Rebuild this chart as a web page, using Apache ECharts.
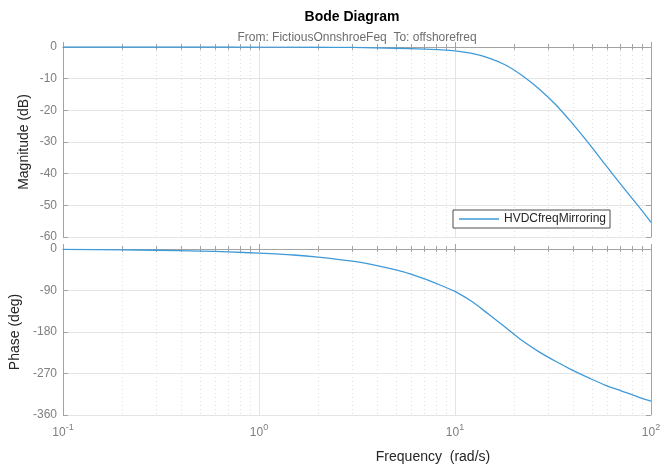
<!DOCTYPE html>
<html>
<head>
<meta charset="utf-8">
<script src="https://cdn.jsdelivr.net/npm/echarts@6/dist/echarts.min.js"></script>
<style>html,body{margin:0;padding:0;background:#fff}#c{width:663px;height:468px}</style>
</head>
<body>
<div id="c"></div>
<script>
// ---- data ----
const magFreq = [0.1, 0.5, 1, 2, 3, 5, 7, 8.2, 10, 12.2, 14.8, 18, 21.9, 26.6, 32.4, 39.4, 47.9, 58.2, 70.8, 86.1, 100];
const magDb   = [0, 0, -0.02, -0.08, -0.15, -0.4, -0.65, -0.85, -1.2, -2.0, -3.4, -5.6, -8.9, -13.0, -18.0, -23.9, -30.3, -37.0, -43.7, -50.2, -55.4];
const phFreq  = [0.1, 0.2, 0.3, 0.5, 0.7, 1, 1.5, 2, 3, 4, 5, 6, 7, 8, 9, 10, 12.2, 14.8, 18, 21.9, 26.6, 32.4, 39.4, 47.9, 58.2, 70.8, 86.1, 100];
const phDeg   = [-0.9, -1.8, -2.7, -4.5, -6.3, -9, -13, -17.5, -26.5, -36, -45.5, -55, -65, -74.5, -83.5, -92, -114, -141, -169, -198, -222, -243, -262, -279, -295, -308, -321, -330];
const seriesName = 'HVDCfreqMirroring';
const titleText = 'Bode Diagram';
const subTitleText = 'From: FictiousOnnshroeFeq  To: offshorefreq';
const magLabel = 'Magnitude (dB)';
const phLabel = 'Phase (deg)';
const freqLabel = 'Frequency  (rad/s)';
const magTicks = {min: -60, max: 0, interval: 10};
const phTicks = {min: -360, max: 0, interval: 90};
const xRange = {min: 0.1, max: 100};

// ---- styling ----
const FONT = '"Liberation Sans", Arial, Helvetica, sans-serif';
const AX = '#a3a3a3';
const TXT = '#7f7f7f';
const LINE = '#3f9ad8';

const minorVals = [];
const allVals = [];
[0.1, 1, 10].forEach(d => {
  for (let k = 1; k <= 9; k++) {
    const v = +(k * d).toFixed(6);
    allVals.push(v);
    if (k > 1) minorVals.push(v);
  }
});
allVals.push(100);

function xAxes(gi, showLabels) {
  return [
    {type: 'log', gridIndex: gi, logBase: 10, min: xRange.min, max: xRange.max, position: 'bottom',
     axisLine: {show: true, lineStyle: {color: AX, width: 1}},
     axisTick: {show: true, inside: true, length: 5, lineStyle: {color: AX}},
     minorTick: {show: false},
     axisLabel: {show: showLabels, margin: 8, showMinLabel: true, showMaxLabel: true,
       formatter: v => '{b|10}{s|' + Math.round(Math.log10(v)) + '}',
       rich: {b: {fontSize: 12, color: TXT, fontFamily: FONT, verticalAlign: 'bottom'},
              s: {fontSize: 9, color: TXT, fontFamily: FONT, verticalAlign: 'bottom', padding: [0, 0, 7, 0]}}},
     splitLine: {show: true, lineStyle: {color: '#e4e4e4', width: 1}}},
    {type: 'log', gridIndex: gi, logBase: 10, min: xRange.min, max: xRange.max, position: 'bottom',
     axisLine: {show: false},
     axisTick: {show: true, inside: true, length: 3, customValues: minorVals, lineStyle: {color: AX}},
     axisLabel: {show: false},
     splitLine: {show: true, lineStyle: {color: '#dedede', width: 1, type: [1, 3]}}},
    {type: 'log', gridIndex: gi, logBase: 10, min: xRange.min, max: xRange.max, position: 'top',
     axisLine: {show: true, lineStyle: {color: AX, width: 1}},
     axisTick: {show: true, inside: true, length: 3, customValues: allVals, lineStyle: {color: AX}},
     axisLabel: {show: false},
     splitLine: {show: false}}
  ];
}

function yAxes(gi, t) {
  return [
    {type: 'value', gridIndex: gi, min: t.min, max: t.max, interval: t.interval, position: 'left',
     axisLine: {show: true, lineStyle: {color: AX, width: 1}},
     axisTick: {show: true, inside: true, length: 5, lineStyle: {color: AX}},
     axisLabel: {show: true, color: TXT, fontSize: 12, fontFamily: FONT, margin: 6, showMinLabel: true, showMaxLabel: true},
     splitLine: {show: true, lineStyle: {color: '#e4e4e4', width: 1}}},
    {type: 'value', gridIndex: gi, min: t.min, max: t.max, interval: t.interval, position: 'right',
     axisLine: {show: true, lineStyle: {color: AX, width: 1}},
     axisTick: {show: true, inside: true, length: 5, lineStyle: {color: AX}},
     axisLabel: {show: false},
     splitLine: {show: false}}
  ];
}

const chart = echarts.init(document.getElementById('c'), null, {renderer: 'canvas'});
chart.setOption({
  animation: false,
  backgroundColor: '#ffffff',
  textStyle: {fontFamily: FONT},
  grid: [
    {left: 63, right: 12, top: 47, height: 190, containLabel: false, outerBoundsMode: 'none'},
    {left: 63, right: 12, top: 249, height: 166, containLabel: false, outerBoundsMode: 'none'}
  ],
  xAxis: [...xAxes(0, false), ...xAxes(1, true)],
  yAxis: [...yAxes(0, magTicks), ...yAxes(1, phTicks)],
  legend: {
    data: [{name: seriesName, icon: 'rect'}], left: 453, top: 210, orient: 'horizontal',
    backgroundColor: '#ffffff', borderColor: '#4d4d4d', borderWidth: 1, borderRadius: 0,
    padding: [3, 4, 3, 6], itemWidth: 40, itemHeight: 1.4, itemGap: 6,
    itemStyle: {color: LINE, borderWidth: 0},
    textStyle: {fontSize: 12, color: '#262626', fontFamily: FONT}
  },
  series: [
    {name: seriesName, type: 'line', xAxisIndex: 0, yAxisIndex: 0, symbol: 'none', smooth: 0.3,
     lineStyle: {color: LINE, width: 1.3}, itemStyle: {color: LINE},
     data: magFreq.map((f, i) => [f, magDb[i]])},
    {name: seriesName, type: 'line', xAxisIndex: 3, yAxisIndex: 2, symbol: 'none', smooth: 0.3,
     lineStyle: {color: LINE, width: 1.3}, itemStyle: {color: LINE},
     data: phFreq.map((f, i) => [f, phDeg[i]])}
  ],
  graphic: [
    {type: 'text', x: 352, y: 17, style: {text: titleText, font: 'bold 14px ' + FONT, fill: '#000', textAlign: 'center', textVerticalAlign: 'middle'}},
    {type: 'text', x: 357, y: 38, style: {text: subTitleText, font: '12px ' + FONT, fill: '#6e6e6e', textAlign: 'center', textVerticalAlign: 'middle'}},
    {type: 'text', x: 24, y: 142, rotation: Math.PI / 2, style: {text: magLabel, font: '14px ' + FONT, fill: '#262626', textAlign: 'center', textVerticalAlign: 'middle'}},
    {type: 'text', x: 15, y: 332, rotation: Math.PI / 2, style: {text: phLabel, font: '14px ' + FONT, fill: '#262626', textAlign: 'center', textVerticalAlign: 'middle'}},
    {type: 'text', x: 433, y: 457, style: {text: freqLabel, font: '14px ' + FONT, fill: '#262626', textAlign: 'center', textVerticalAlign: 'middle'}}
  ]
});
</script>
</body>
</html>
